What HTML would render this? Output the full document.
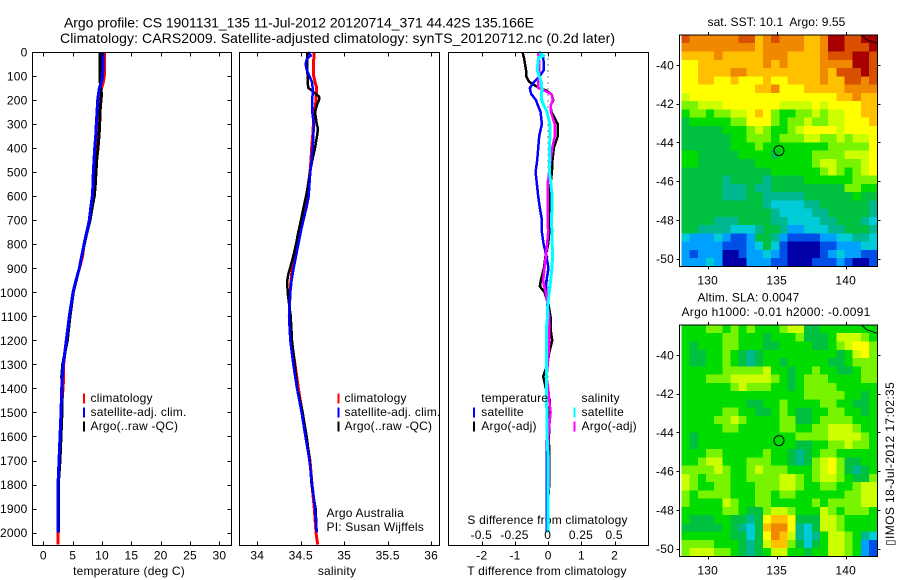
<!DOCTYPE html>
<html>
<head>
<meta charset="utf-8">
<title>Argo profile</title>
<style>
html,body{margin:0;padding:0;background:#fff;width:900px;height:580px;overflow:hidden}
svg{display:block;position:absolute;left:0;top:0}
text{font-family:"Liberation Sans",sans-serif;font-size:12px;fill:#000;letter-spacing:.2px;white-space:pre}
.t14{font-size:14px;letter-spacing:0}
</style>
</head>
<body>
<svg id="chart" width="900" height="580" viewBox="0 0 900 580" xmlns="http://www.w3.org/2000/svg">
<text class="t14" x="64" y="27.5" textLength="470">Argo profile: CS 1901131_135 11-Jul-2012 20120714_371 44.42S 135.166E</text>
<text class="t14" x="60" y="43" textLength="555">Climatology: CARS2009. Satellite-adjusted climatology: synTS_20120712.nc (0.2d later)</text>
<text x="129" y="575" text-anchor="middle">temperature (deg C)</text>
<text x="337" y="575" text-anchor="middle">salinity</text>
<text x="547" y="575" text-anchor="middle">T difference from climatology</text>
<text x="547.5" y="524" text-anchor="middle">S difference from climatology</text>
<text x="326.5" y="517">Argo Australia</text>
<text x="326.5" y="531">PI: Susan Wijffels</text>
<text x="707.5" y="26" textLength="138">sat. SST: 10.1  Argo: 9.55</text>
<text x="697.5" y="301.5" textLength="102">Altim. SLA: 0.0047</text>
<text x="681.5" y="316" textLength="189">Argo h1000: -0.01 h2000: -0.0091</text>
<text transform="translate(894,546) rotate(-90)" textLength="164">▯IMOS 18-Jul-2012 17:02:35</text>
<g id="layer"></g>
</svg>
<script>
// ---------- profile data ----------
const depthTicks = [0,100,200,300,400,500,600,700,800,900,1000,1100,1200,1300,1400,1500,1600,1700,1800,1900,2000];
const tempTicks = [0,5,10,15,20,25,30];
const salTicks = [34,34.5,35,35.5,36];
const salTickLabels = ['34','34.5','35','35.5','36'];
const tDiffTicks = [-2,-1,0,1,2];
const sDiffTicks = [-0.5,-0.25,0,0.25,0.5];
const sDiffTickLabels = ['-0.5','-0.25','0','0.25','0.5'];

const depthsClim = [0,50,100,125,150,175,200,250,300,350,400,450,500,550,600,650,700,750,800,850,900,950,1000,1100,1200,1300,1350,1400,1500,1600,1700,1800,1900,2000,2050];
const depthsProfile = [0,50,100,125,150,175,200,250,300,350,400,450,500,550,600,650,700,750,800,850,900,950,1000,1100,1200,1300,1350,1400,1500,1600,1700,1800,1900,2000];
const tempClim = [10.4,10.4,10.4,10.23,9.94,9.77,9.55,9.38,9.2,9.15,8.98,8.8,8.69,8.64,8.47,8.1,7.85,7.4,6.95,6.7,6.15,5.58,5.07,4.44,3.93,3.45,3.47,3.35,3.03,2.85,2.68,2.52,2.5,2.5,2.5];
const tempSat = [10.17,10.17,10.1,9.89,9.55,9.38,9.26,9.15,9.03,8.92,8.75,8.64,8.52,8.47,8.35,8.07,7.84,7.39,6.93,6.53,6.14,5.57,5.06,4.43,3.92,3.41,3.24,3.13,3.01,2.84,2.67,2.5,2.5,2.5];
const tempArgo = [9.66,9.66,9.7,9.7,9.77,9.94,9.83,9.66,9.6,9.49,9.32,9.09,8.98,8.86,8.69,8.3,7.95,7.44,6.98,6.53,6.14,5.63,5.11,4.55,4.09,3.3,3.13,3.18,3.18,3.01,2.84,2.56,2.56,2.56];

const salClim = [34.656,34.645,34.649,34.664,34.683,34.679,34.675,34.66,34.645,34.637,34.625,34.618,34.606,34.587,34.568,34.549,34.51,34.483,34.453,34.422,34.403,34.388,34.376,34.368,34.391,34.434,34.453,34.472,34.518,34.56,34.606,34.629,34.656,34.675,34.695];
const depthsSalSat = [0,15,30,50,75,100,125,150,175,200,250,300,350,400,450,500,550,600,650,700,750,800,850,900,950,1000,1100,1200,1300,1400,1500,1600,1700,1800,1900,2000];
const salSat = [34.587,34.614,34.568,34.556,34.568,34.599,34.629,34.637,34.637,34.629,34.633,34.649,34.645,34.637,34.625,34.61,34.599,34.591,34.564,34.53,34.499,34.472,34.445,34.418,34.395,34.38,34.365,34.38,34.414,34.457,34.51,34.553,34.599,34.633,34.664,34.683];
const depthsSalArgo = [0,50,100,125,150,160,175,185,200,215,250,300,320,350,400,450,500,550,600,650,700,750,800,850,900,925,950,1000,1100,1200,1300,1400,1500,1600,1700,1800,1900,2000];
const salArgo = [34.572,34.572,34.579,34.579,34.587,34.625,34.675,34.71,34.71,34.691,34.664,34.683,34.698,34.687,34.664,34.633,34.606,34.587,34.56,34.53,34.503,34.472,34.445,34.414,34.376,34.357,34.345,34.349,34.384,34.399,34.43,34.46,34.522,34.568,34.603,34.625,34.671,34.683];

const depthsDiff = [0,15,25,50,75,100,125,150,160,175,200,225,250,300,350,400,450,500,550,600,650,700,750,800,850,900,950,975,1000,1050,1100,1150,1200,1250,1300,1350,1400,1450,1500,1600,1700,1800,1900,2000];
const tDiffArgo = [-.77,-.75,-.73,-.70,-.67,-.67,-.57,-.27,-.07,.1,.15,.07,.1,.29,.29,.17,.13,.11,.07,.05,.04,.03,.03,0,-.08,-.13,-.22,-.25,-.11,.01,.07,.07,.12,.03,-.02,-.15,-.07,.05,.05,.02,.03,.03,-.02,-.03];
const tDiffSat = [-.29,-.15,-.15,-.13,-.13,-.25,-.43,-.55,-.54,-.51,-.37,-.30,-.23,-.19,-.27,-.30,-.33,-.38,-.34,-.30,-.25,-.19,-.19,-.14,-.05,.01,-.05,-.07,-.05,-.03,-.03,-.04,-.04,-.04,-.04,-.04,-.04,-.04,-.04,-.04,-.04,-.04,-.04,-.04];
const sDiffArgo = [-.075,-.073,-.07,-.068,-.068,-.07,-.075,-.073,-.033,.025,.035,.018,.02,.05,.05,.03,.018,.008,-.005,-.005,-.005,-.005,0,-.008,-.018,-.028,-.038,-.03,-.018,-.005,.008,.008,.008,.003,-.003,-.013,0,.008,.018,0,.003,.003,0,0];
const sDiffSat = [-.068,-.033,-.073,-.078,-.083,-.068,-.053,-.048,-.048,-.05,-.05,-.03,-.008,.013,.013,.01,.008,.01,.02,.03,.028,.025,.028,.03,.033,.028,.018,.013,.008,-.003,-.005,-.013,-.013,-.013,-.013,-.013,-.013,-.013,-.01,-.008,0,0,0,0];

// ---------- map data (colour level per cell, 0 = coldest/lowest, 13 = warmest/highest) ----------
const mapLonTicks = [130,135,140];
const mapLatTicks = [-40,-42,-44,-46,-48,-50];
const argoLon = 135.166;
const argoLat = -44.42;
const coastLon = [141.16,141.52,141.76,142.27];
const coastLat = [-38.45,-38.7,-38.75,-38.88];
const sstLevels = [
[12,11,11,11,11,11,11,12,12,10,11,12,11,11,11,10,10,11,13,13,12,12,13,13],
[11,11,11,11,11,11,11,11,11,10,11,11,11,11,11,10,10,11,13,13,12,12,12,13],
[10,10,10,10,11,10,10,10,10,10,11,11,11,10,10,10,10,11,12,12,12,13,13,12],
[9,9,10,10,10,10,10,10,10,10,11,10,11,10,10,10,10,11,11,11,11,13,13,12],
[9,9,10,10,10,10,11,11,10,10,10,10,10,10,10,10,10,11,10,12,12,12,13,12],
[9,9,10,10,9,9,10,9,9,9,10,9,9,10,10,10,10,11,10,10,12,12,11,12],
[9,9,9,9,9,9,9,9,9,10,10,11,9,9,9,10,10,10,10,10,11,11,11,11],
[8,9,9,9,9,9,9,9,9,9,9,9,9,9,9,9,9,9,9,10,10,11,10,10],
[7,7,8,8,8,9,9,9,9,9,9,9,8,8,8,8,9,8,9,9,9,9,10,10],
[6,7,7,6,7,7,8,8,9,10,9,7,6,6,7,7,8,7,8,8,9,9,10,10],
[5,6,6,6,6,6,7,7,9,9,9,7,6,7,7,8,7,7,8,8,9,9,9,10],
[5,5,5,5,5,6,6,6,7,8,7,6,6,7,8,9,9,9,9,8,9,9,9,9],
[5,5,5,5,5,5,6,6,7,7,7,6,7,7,7,8,8,7,7,8,7,8,8,9],
[5,5,5,5,5,5,6,6,6,7,6,6,6,6,6,6,6,6,7,7,7,7,7,9],
[6,6,5,5,5,5,5,6,6,6,6,5,6,6,6,6,7,7,7,7,8,8,8,9],
[6,6,5,5,5,5,5,5,5,6,6,6,6,6,6,6,7,8,8,7,7,7,8,9],
[5,5,5,5,5,5,5,5,5,5,5,6,6,6,6,6,6,7,8,7,6,7,8,9],
[5,5,5,5,5,4,5,5,5,5,4,5,5,5,5,6,6,6,6,6,6,7,7,7],
[5,5,5,5,5,4,4,4,5,4,4,5,5,5,5,5,5,5,5,5,7,7,6,6],
[5,5,5,5,5,4,4,4,5,5,4,4,4,4,4,5,5,5,5,5,5,6,5,5],
[5,5,5,5,5,5,5,5,5,5,4,3,3,3,3,4,4,5,5,5,5,5,5,4],
[5,5,5,5,5,5,5,5,5,5,5,4,3,3,3,3,4,4,5,5,5,5,5,4],
[5,5,5,5,4,4,4,5,5,5,5,4,4,3,3,3,3,4,4,5,5,5,4,3],
[5,5,4,4,4,4,3,3,3,4,5,5,4,2,2,3,3,3,4,4,5,5,5,4],
[3,2,2,2,3,2,1,1,2,5,5,4,2,1,1,1,1,2,2,3,3,4,4,3],
[2,2,2,2,2,1,1,1,2,3,5,3,1,0,0,0,0,1,1,2,2,2,3,3],
[2,1,2,2,2,0,0,1,2,2,3,2,1,0,0,0,0,1,2,3,2,2,1,1],
[2,2,2,3,2,0,0,0,2,2,2,1,1,0,0,0,1,1,1,2,1,0,0,1]
];
const slaLevels = [
[6,6,6,7,7,6,7,6,7,6,6,6,7,8,8,5,5,6,6,6,6,6,6,6],
[6,6,6,6,6,7,7,6,6,6,5,6,6,6,7,5,5,5,6,8,8,8,7,6],
[6,5,6,6,6,7,7,6,6,6,5,5,6,6,6,6,5,5,6,7,8,9,9,7],
[6,5,5,6,6,7,6,5,4,5,6,6,6,6,6,6,6,6,6,5,6,8,9,7],
[6,5,5,6,6,7,6,5,4,5,6,6,5,6,6,6,6,6,5,5,6,7,7,7],
[6,6,6,6,6,7,7,7,7,7,8,6,6,5,6,6,7,6,6,5,5,6,7,7],
[6,6,6,7,7,7,8,8,8,8,8,7,6,5,6,7,7,7,6,6,6,6,7,7],
[6,6,6,6,6,6,7,8,7,7,7,6,6,5,6,7,7,7,7,6,6,6,6,6],
[6,6,6,6,6,6,6,6,6,6,6,6,6,6,6,7,7,7,7,7,6,6,5,6],
[6,6,6,6,6,6,6,6,5,5,6,6,7,6,6,6,6,7,7,6,6,5,5,6],
[6,6,6,6,6,7,7,6,6,5,5,6,7,6,5,5,6,6,7,7,6,6,5,6],
[6,6,6,6,7,7,8,7,6,6,6,6,7,7,5,5,6,7,7,7,7,6,6,6],
[6,6,6,6,6,7,7,6,6,6,6,6,7,7,6,6,7,7,8,8,8,7,6,6],
[6,5,6,6,6,6,6,6,6,6,6,6,6,6,7,7,7,7,8,8,8,8,7,6],
[6,5,6,6,6,6,6,6,6,6,6,6,6,6,5,5,6,6,7,7,8,7,7,6],
[6,6,6,7,7,6,6,6,6,6,7,6,6,5,4,5,6,7,7,6,6,6,6,6],
[6,6,7,8,8,6,6,6,7,7,7,6,6,5,4,5,7,8,9,7,5,5,6,6],
[7,7,7,7,8,7,6,6,7,8,7,7,7,6,6,6,7,8,9,7,5,4,5,6],
[8,7,6,7,7,7,6,6,7,7,7,7,8,8,7,6,7,8,8,7,6,5,5,7],
[8,7,6,6,7,7,6,6,6,7,7,7,8,8,7,6,6,7,7,6,6,7,8,8],
[7,6,7,7,7,7,6,6,6,7,7,6,7,7,6,6,6,6,6,6,7,7,8,8],
[7,6,6,6,6,8,7,6,6,7,7,6,6,6,6,6,7,6,7,7,7,7,8,8],
[6,6,6,6,6,7,7,6,5,5,7,8,8,7,6,6,6,8,7,6,7,7,7,6],
[6,5,5,5,6,6,5,5,4,5,9,10,10,9,5,5,5,8,8,7,6,6,6,6],
[5,5,5,5,5,6,5,4,3,5,10,11,11,9,4,3,5,8,8,7,6,6,6,6],
[6,6,6,6,6,6,5,5,3,5,9,11,10,8,4,3,4,6,8,8,7,6,4,3],
[7,7,7,7,6,6,6,5,4,5,8,10,10,7,5,3,5,6,8,8,7,6,2,1],
[7,8,8,8,7,7,6,5,4,5,6,8,8,6,6,5,6,6,8,8,7,6,2,1]
];
const levelColors = ['#0000a8','#0050e8','#00a0ff','#00ccd8','#00b890','#00c040','#00dc00','#78f400','#ccff00','#ffff00','#ffc000','#f08800','#d85000','#a80000'];

// ---------- axis functions ----------
const NS = 'http://www.w3.org/2000/svg';
const layer = document.getElementById('layer');
const yDepth = d => 52 + 0.2403 * d;
const xTemp = v => 43.3 + 5.87 * v;
const xSal = v => 257.3 + 86.9 * (v - 34);
const xTDiff = v => 548.2 + 33.2 * v;
const xSDiff = v => xTDiff(v * 4);
const xLon = v => 707.7 + 13.8 * (v - 130);
const yLat = (v, top) => top + 30 + 19.37 * (-40 - v);

function make(tag, attrs, name) {
  const el = document.createElementNS(NS, tag);
  for (const k in attrs) el.setAttribute(k, attrs[k]);
  
  
  layer.appendChild(el);
  return el;
}
function label(x, y, str, anchor, name) {
  const el = make('text', {x: x, y: y, 'text-anchor': anchor}, name);
  el.textContent = str;
  return el;
}
function tick(x1, y1, x2, y2, name) {
  make('line', {x1: x1, y1: y1, x2: x2, y2: y2, stroke: '#000', 'stroke-width': 1, 'shape-rendering': 'crispEdges'}, name);
}
function frame(x, y, w, h, name) {
  make('rect', {x: x, y: y, width: w, height: h, fill: 'none', stroke: '#000', 'stroke-width': 1, 'shape-rendering': 'crispEdges'}, name);
}
function profile(values, depths, xf, color, width, name) {
  const pts = values.map((v, i) => xf(v).toFixed(1) + ',' + yDepth(depths[i]).toFixed(1)).join(' ');
  make('polyline', {points: pts, fill: 'none', stroke: color, 'stroke-width': width, 'shape-rendering': 'crispEdges', 'stroke-linejoin': 'round'}, name);
}
function swatch(x, y, color, name) {
  make('rect', {x: x, y: y, width: 2, height: 10, fill: color, 'shape-rendering': 'crispEdges'}, name);
}

const P1 = {l: 32.5, r: 231.5}, P2 = {l: 239.5, r: 439.5}, P3 = {l: 448.5, r: 648.5};
const pTop = 52.5, pBot = 545.5;

// panel 1: temperature
profile(tempClim, depthsClim, xTemp, '#ff0000', 3, 'temperature-climatology-line');
profile(tempArgo, depthsProfile, xTemp, '#000000', 3, 'temperature-argo-line');
profile(tempSat, depthsProfile, xTemp, '#0000ff', 3, 'temperature-satellite-line');
frame(P1.l, pTop, P1.r - P1.l, pBot - pTop, 'temperature-panel-frame');
depthTicks.forEach(d => {
  const y = Math.round(yDepth(d)) + 0.5;
  if (d > 0) tick(P1.l, y, P1.l + 4, y, 'depth-tick-left');
  if (d > 0) tick(P1.r - 4, y, P1.r, y, 'depth-tick-right');
  label(27.5, yDepth(d) + 4.5, String(d), 'end', 'depth-tick-label');
});
tempTicks.forEach(v => {
  const x = Math.round(xTemp(v)) + 0.5;
  tick(x, pTop, x, pTop + 4, 'temperature-tick-top');
  tick(x, pBot - 4, x, pBot, 'temperature-tick-bottom');
  label(xTemp(v), 559.5, String(v), 'middle', 'temperature-tick-label');
});

// panel 2: salinity
profile(salClim, depthsClim, xSal, '#ff0000', 3, 'salinity-climatology-line');
profile(salArgo, depthsSalArgo, xSal, '#000000', 2.5, 'salinity-argo-line');
profile(salSat, depthsSalSat, xSal, '#0000ff', 2.5, 'salinity-satellite-line');
frame(P2.l, pTop, P2.r - P2.l, pBot - pTop, 'salinity-panel-frame');
salTicks.forEach((v, i) => {
  const x = Math.round(xSal(v)) + 0.5;
  tick(x, pTop, x, pTop + 4, 'salinity-tick-top');
  tick(x, pBot - 4, x, pBot, 'salinity-tick-bottom');
  label(xSal(v), 559.5, salTickLabels[i], 'middle', 'salinity-tick-label');
});

// panel 3: differences
make('line', {x1: xTDiff(0), y1: pTop, x2: xTDiff(0), y2: yDepth(2000), stroke: '#000', 'stroke-width': 1, 'stroke-dasharray': '1 5', 'shape-rendering': 'crispEdges'}, 'zero-difference-line');
profile(tDiffArgo, depthsDiff, xTDiff, '#000000', 2.5, 't-difference-argo-line');
profile(tDiffSat, depthsDiff, xTDiff, '#0000ff', 2.5, 't-difference-satellite-line');
profile(sDiffArgo, depthsDiff, xSDiff, '#ff00ff', 2.5, 's-difference-argo-line');
profile(sDiffSat, depthsDiff, xSDiff, '#00ffff', 3, 's-difference-satellite-line');
frame(P3.l, pTop, P3.r - P3.l, pBot - pTop, 'difference-panel-frame');
tDiffTicks.forEach(v => {
  const x = Math.round(xTDiff(v)) + 0.5;
  tick(x, pTop, x, pTop + 4, 't-difference-tick-top');
  tick(x, pBot - 4, x, pBot, 't-difference-tick-bottom');
  label(xTDiff(v), 559.5, String(v), 'middle', 't-difference-tick-label');
});
sDiffTicks.forEach((v, i) => {
  label(xSDiff(v) - 0.5, 539, sDiffTickLabels[i], 'middle', 's-difference-tick-label');
});

// legends
[[83, 90.5, 'temperature'], [337.5, 344.5, 'salinity']].forEach(g => {
  swatch(g[0], 393.5, '#ff0000', g[2] + '-legend-climatology-swatch');
  swatch(g[0], 407.5, '#0000ff', g[2] + '-legend-satellite-swatch');
  swatch(g[0], 421.5, '#000000', g[2] + '-legend-argo-swatch');
  label(g[1], 402, 'climatology', 'start', g[2] + '-legend-climatology');
  label(g[1], 416, 'satellite-adj. clim.', 'start', g[2] + '-legend-satellite');
  label(g[1], 430, 'Argo(..raw -QC)', 'start', g[2] + '-legend-argo');
});
label(481.3, 402, 'temperature', 'start', 'difference-legend-temperature-heading');
label(481.3, 416, 'satellite', 'start', 'difference-legend-t-satellite');
label(481.3, 430, 'Argo(-adj)', 'start', 'difference-legend-t-argo');
label(581.5, 402, 'salinity', 'start', 'difference-legend-salinity-heading');
label(581.5, 416, 'satellite', 'start', 'difference-legend-s-satellite');
label(581.5, 430, 'Argo(-adj)', 'start', 'difference-legend-s-argo');
swatch(473, 407.5, '#0000ff', 'difference-legend-t-satellite-swatch');
swatch(473, 421.5, '#000000', 'difference-legend-t-argo-swatch');
swatch(573.5, 407.5, '#00ffff', 'difference-legend-s-satellite-swatch');
swatch(573.5, 421.5, '#ff00ff', 'difference-legend-s-argo-swatch');

// maps
const MAP = {lonMin: 128.1, lonMax: 142.28, latTop: -38.45, latBot: -50.4};
function drawMap(levels, top, prefix) {
  const rows = levels.length, cols = levels[0].length;
  const dLon = (MAP.lonMax - MAP.lonMin) / cols, dLat = (MAP.latTop - MAP.latBot) / rows;
  levels.forEach((row, r) => row.forEach((lvl, c) => {
    const x0 = xLon(MAP.lonMin + c * dLon), x1 = xLon(MAP.lonMin + (c + 1) * dLon);
    const y0 = yLat(MAP.latTop - r * dLat, top), y1 = yLat(MAP.latTop - (r + 1) * dLat, top);
    make('rect', {x: x0.toFixed(2), y: y0.toFixed(2), width: (x1 - x0 + 0.6).toFixed(2), height: (y1 - y0 + 0.6).toFixed(2), fill: levelColors[lvl], 'shape-rendering': 'crispEdges'}, prefix + '-map-cell');
  }));
  const coast = coastLon.map((v, i) => xLon(v).toFixed(1) + ',' + yLat(coastLat[i], top).toFixed(1)).join(' ');
  make('polyline', {points: coast, fill: 'none', stroke: '#000', 'stroke-width': 1}, prefix + '-map-coastline');
  const bx = 679.5, bw = 198, bh = 231.5;
  make('rect', {x: bx, y: top, width: bw, height: bh, fill: 'none', stroke: '#000', 'stroke-width': 1, 'shape-rendering': 'crispEdges'}, prefix + '-map-frame');
  mapLonTicks.forEach(v => {
    const x = Math.round(xLon(v)) + 0.5;
    tick(x, top - 3, x, top, prefix + '-map-lon-tick-top');
    tick(x, top + bh, x, top + bh + 3, prefix + '-map-lon-tick-bottom');
    label(xLon(v), top + bh + 18, String(v), 'middle', prefix + '-map-lon-label');
  });
  mapLatTicks.forEach(v => {
    const y = Math.round(yLat(v, top)) + 0.5;
    tick(bx - 3, y, bx, y, prefix + '-map-lat-tick-left');
    tick(bx + bw, y, bx + bw + 3, y, prefix + '-map-lat-tick-right');
    label(674, yLat(v, top) + 4.5, String(v), 'end', prefix + '-map-lat-label');
  });
  make('circle', {cx: xLon(argoLon), cy: yLat(argoLat, top), r: 5, fill: 'none', stroke: '#000', 'stroke-width': 1}, prefix + '-map-argo-marker');
}
drawMap(sstLevels, 35, 'sst');
drawMap(slaLevels, 325, 'sla');
</script>
</body>
</html>
